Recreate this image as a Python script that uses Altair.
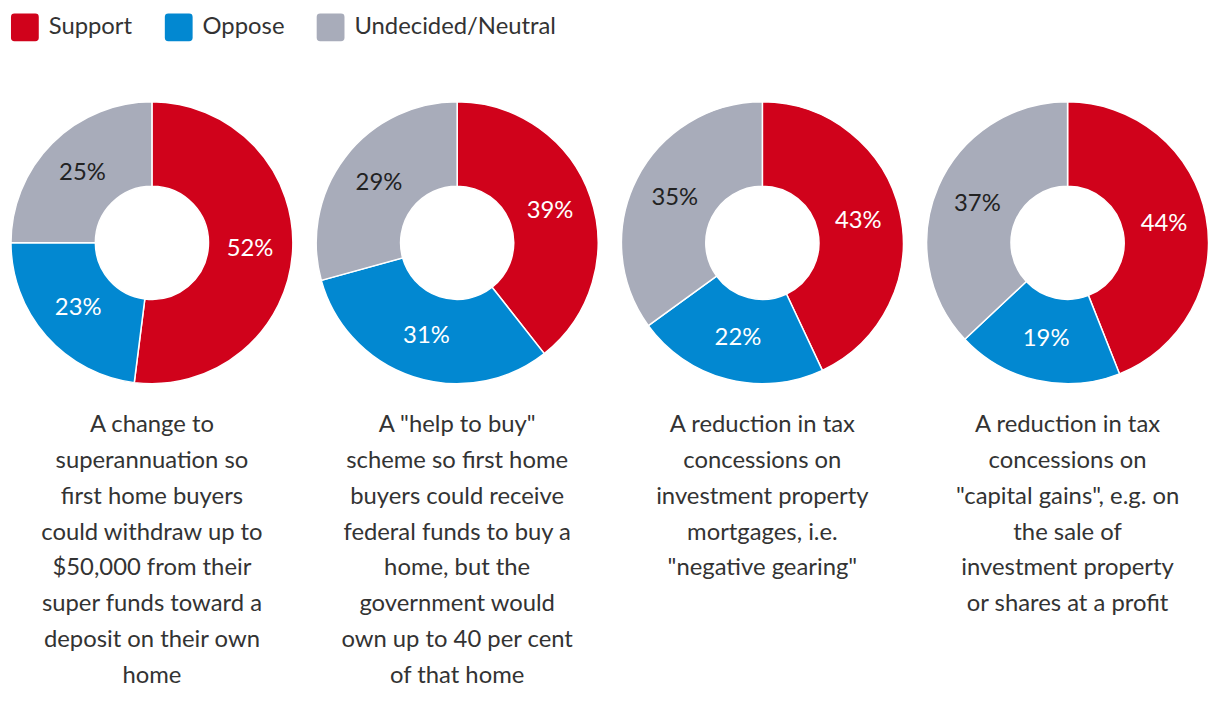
import altair as alt
import pandas as pd

answers = ["Support", "Oppose", "Undecided/Neutral"]
colors = ["#D0021B", "#0288D1", "#A8ACBA"]
support = [52, 39, 43, 44]
oppose = [23, 31, 22, 19]
undecided = [25, 29, 35, 37]
captions = [
    ["A change to", "superannuation so", "first home buyers", "could withdraw up to",
     "$50,000 from their", "super funds toward a", "deposit on their own", "home"],
    ['A "help to buy"', "scheme so first home", "buyers could receive", "federal funds to buy a",
     "home, but the", "government would", "own up to 40 per cent", "of that home"],
    ["A reduction in tax", "concessions on", "investment property", "mortgages, i.e.",
     '"negative gearing"'],
    ["A reduction in tax", "concessions on", '"capital gains", e.g. on', "the sale of",
     "investment property", "or shares at a profit"],
]

FONT = "Lato"
rows = []
for q in range(4):
    for i, (a, v) in enumerate(zip(answers, [support[q], oppose[q], undecided[q]])):
        rows.append({"q": q, "answer": a, "value": v, "order": i, "label": f"{v}%"})
df = pd.DataFrame(rows)

rounded = ("M-0.75,-1 L0.75,-1 Q1,-1 1,-0.75 L1,0.75 Q1,1 0.75,1 L-0.75,1 "
           "Q-1,1 -1,0.75 L-1,-0.75 Q-1,-1 -0.75,-1 Z")

color_enc = alt.Color(
    "answer:N",
    scale=alt.Scale(domain=answers, range=colors),
    legend=alt.Legend(
        title=None, orient="none", direction="horizontal", legendX=2, legendY=-88,
        symbolType=rounded, symbolSize=784, symbolStrokeWidth=0, symbolOpacity=1,
        labelFont=FONT, labelFontSize=24, labelColor="#333333", labelOffset=10,
        columnPadding=32, labelLimit=400,
    ),
    sort=answers,
)

panels = []
for q in range(4):
    base = alt.Chart(df[df.q == q]).encode(
        theta=alt.Theta("value:Q", stack=True),
        order=alt.Order("order:Q"),
    )
    arcs = base.mark_arc(outerRadius=142, innerRadius=57, stroke="white", strokeWidth=1.5).encode(
        color=color_enc
    )
    labels = base.mark_text(radius=99, font=FONT, fontSize=24).encode(
        text="label:N",
        color=alt.condition(alt.datum.answer == "Undecided/Neutral",
                            alt.value("#222222"), alt.value("white")),
    )
    panel = alt.layer(arcs, labels).properties(
        width=288, height=286,
        title=alt.TitleParams(
            text=captions[q], orient="bottom", anchor="middle", font=FONT, fontSize=24,
            fontWeight="normal", color="#333333", lineHeight=36, offset=27, baseline="top",
        ),
    )
    panels.append(panel)

chart = alt.hconcat(*panels, spacing=17.5).properties(padding={"top": 3, "left": 0, "right": 0, "bottom": 0}).configure_view(stroke=None)

chart.save("out.html", embed_options={"renderer": "svg", "actions": False})
